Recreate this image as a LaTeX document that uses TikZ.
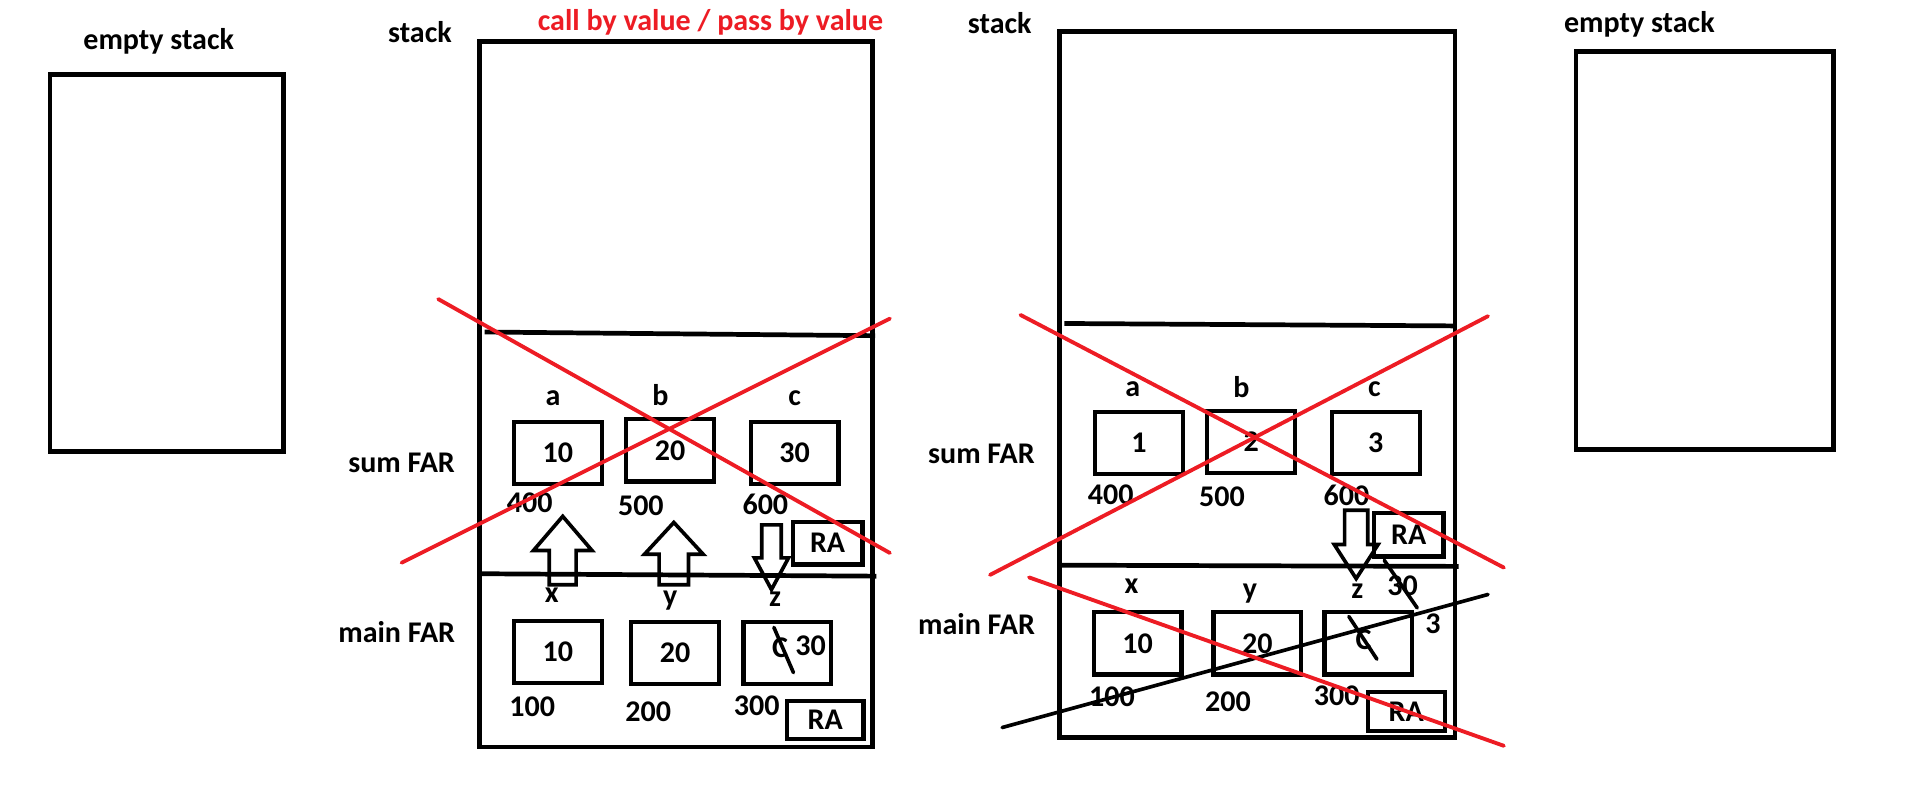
\documentclass[tikz,border=0pt]{standalone}
\usepackage{fontspec}
\setmainfont{Carlito}
\usepackage{tkz-euclide}
\definecolor{paintred}{RGB}{237,28,36}
\tikzset{>=stealth,
  txt/.style={font=\bfseries\fontsize{14}{16}\selectfont, inner sep=0pt},
  cell/.style={txt, draw, line width=2pt, minimum width=14.4mm, minimum height=10.2mm},
  rabox/.style={txt, draw, line width=2pt},
  frame/.style={line width=2.2pt},
  crossout/.style={paintred, line width=1.8pt, line cap=round},
  strike/.style={black, line width=1.7pt, line cap=round}}
% hollow arrow: x, tail y, head base y, tip y, shaft half, head half
\newcommand{\fatarrow}[6]{%
  \draw[line width=1.7pt] (#1-#5,#2) -- (#1-#5,#3) -- (#1-#6,#3) -- (#1,#4)
    -- (#1+#6,#3) -- (#1+#5,#3) -- (#1+#5,#2) -- cycle;}

\begin{document}
\begin{tikzpicture}[x=0.2mm,y=-0.2mm]
\useasboundingbox (0,0) rectangle (1568,663);
% empty stack, left
\node[txt] (empty1) at (130,34) {empty stack};
\draw[frame] (41,61) rectangle (232,370);
% stack, call by value
\node[txt] (stack1) at (344,26) {stack};
\node[txt, text=paintred] (title) at (582,18) {call by value / pass by value};
\draw[frame] (393,34) rectangle (715,612);
\draw[frame] (397,272) -- (717,275);
\draw[frame] (391,470) -- (718,472);
\node[txt] (sum1) at (329,379) {sum FAR};
\node[txt] (main1) at (325,518) {main FAR};
\foreach \n/\x/\y/\v in {a1/457/371/10, b1/549/369/20, c1/651/371/30,
    x1/457/534/10, y1/553/535/20, z1/645/535/{}}
  \node[cell] (\n) at (\x,\y) {\v};
\foreach \n/\x/\y/\v in {la1/453/326/a, lb1/541/324/b, lc1/651/326/c,
    lx1/452/488/x, ly1/549/492/y, lz1/635/491/z,
    n400a/434/412/400, n500a/525/414/500, n600a/627/413/600,
    n100a/436/579/100, n200a/531/583/200, n300a/620/578/300}
  \node[txt] (\n) at (\x,\y) {\v};
\node[rabox, minimum width=11.4mm, minimum height=7mm] (ra1) at (678,445) {RA};
\node[rabox, minimum width=12.6mm, minimum height=6.2mm] (ra2) at (676,590) {RA};
\node[txt] (zc1) at (639,531) {C};
\node[txt] (zv1) at (664,529) {30};
\fatarrow{461}{479}{451}{423}{11}{24}
\fatarrow{552}{479}{454}{428}{12}{24}
\fatarrow{632}{430}{457}{483}{8}{14}
% stack, after the call
\node[txt] (stack2) at (819,19) {stack};
\draw[frame] (868,26) rectangle (1192,604);
\draw[frame] (872,265) -- (1193,267);
\draw[frame] (866,463) -- (1195,464);
\node[txt] (sum2) at (804,372) {sum FAR};
\node[txt] (main2) at (800,511) {main FAR};
\foreach \n/\x/\y/\v in {a2/933/363/1, b2/1025/362/2, c2/1127/363/3,
    x2/932/527/10, y2/1030/527/20, z2/1121/527/{}}
  \node[cell] (\n) at (\x,\y) {\v};
\foreach \n/\x/\y/\v in {la2/928/319/a, lb2/1017/317/b, lc2/1126/319/c,
    lx2/927/480/x, ly2/1024/486/y, lz2/1112/484/z,
    n400b/910/405/400, n500b/1001/407/500, n600b/1103/406/600,
    n100b/911/571/100, n200b/1006/575/200, n300b/1095/570/300}
  \node[txt] (\n) at (\x,\y) {\v};
\node[rabox, minimum width=11.4mm, minimum height=7.2mm] (ra3) at (1154,438) {RA};
\node[rabox, minimum width=12.6mm, minimum height=6.4mm] (ra4) at (1152,583) {RA};
\node[txt] (zc2) at (1117,524) {C};
\node[txt] (zv2) at (1149,480) {30};
\node[txt] (zw2) at (1174,511) {3};
\fatarrow{1111}{418}{446}{474}{9.5}{18}
% empty stack, right
\node[txt] (empty2) at (1343,20) {empty stack};
\draw[frame] (1291,42) rectangle (1502,368);
% crossing out
\tkzDefPoints{359/245/P1, 729/453/P2, 329/461/P3, 729/261/P4,
  836/258/Q1, 1232/465/Q2, 811/471/Q3, 1219/259/Q4, 843/473/Q5, 1232/611/Q6,
  821/596/R1, 1219/487/R2, 634/514/S1, 650/551/S2, 1105/505/S3, 1128/540/S4,
  1134/459/S5, 1161/498/S6}
\tkzDrawSegments[strike](R1,R2 S1,S2 S3,S4 S5,S6)
\tkzDrawSegments[crossout](P1,P2 P3,P4 Q1,Q2 Q3,Q4 Q5,Q6)
\end{tikzpicture}
\end{document}
